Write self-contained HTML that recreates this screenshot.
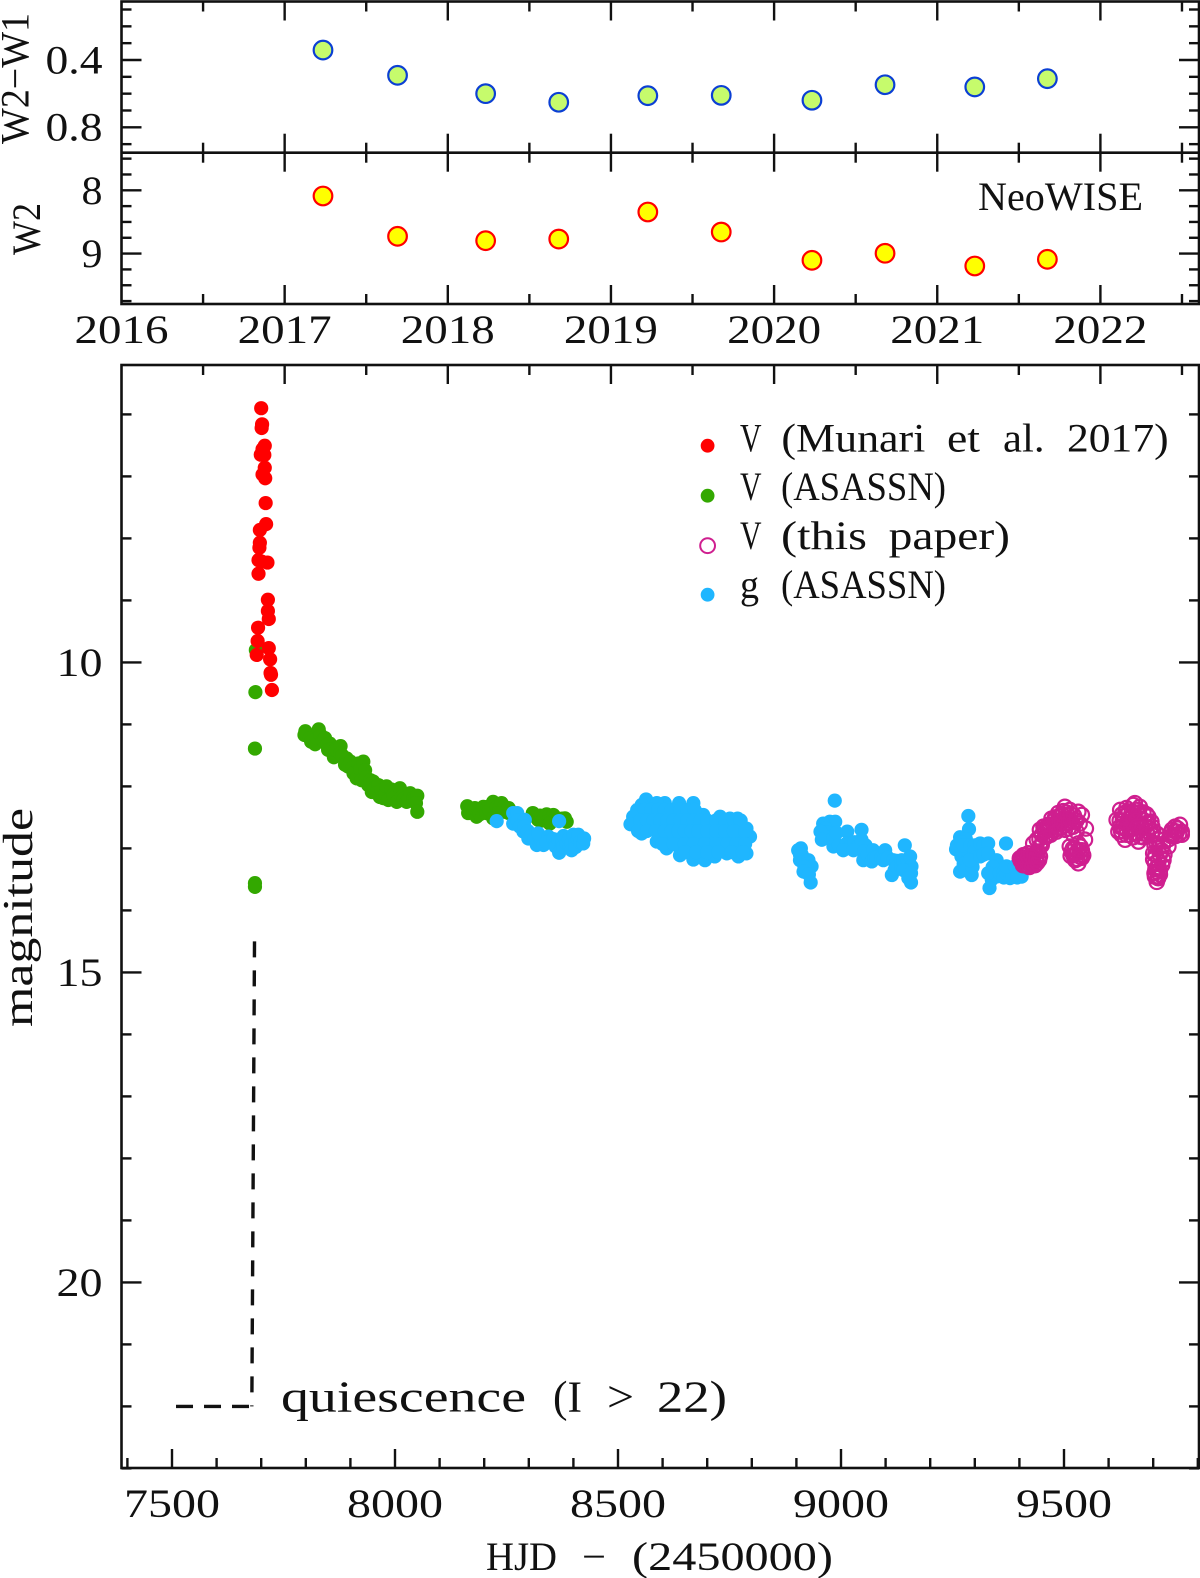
<!DOCTYPE html>
<html lang="en">
<head>
<meta charset="utf-8">
<title>Light curve with NeoWISE panels</title>
<style>
html,body{margin:0;padding:0;background:#fff;width:1200px;height:1578px;overflow:hidden}
svg{display:block}
text{font-family:"Liberation Serif",serif;fill:#111}
</style>
</head>
<body>
<svg id="chart" xmlns="http://www.w3.org/2000/svg" width="1200" height="1578" viewBox="0 0 1200 1578">
  <rect x="0" y="0" width="1200" height="1578" fill="#fff"/>
  <g id="ticks" stroke="#111" stroke-width="2.4" fill="none"></g>
  <rect x="121.5" y="1.5" width="1077.5" height="302.5" fill="none" stroke="#111" stroke-width="2.6"/>
  <line x1="121.5" x2="1199" y1="152.7" y2="152.7" stroke="#111" stroke-width="2.6"/>
  <rect x="121.5" y="365" width="1077.5" height="1103" fill="none" stroke="#111" stroke-width="2.6"/>
  <g id="labels"></g>
  <g id="marks"></g>

  <text transform="translate(28.7,144) rotate(-90)" font-size="40" textLength="131" lengthAdjust="spacingAndGlyphs">W2−W1</text>
  <text transform="translate(40,255) rotate(-90)" font-size="40" textLength="52" lengthAdjust="spacingAndGlyphs">W2</text>
  <text transform="translate(32,1027) rotate(-90)" font-size="42" textLength="219" lengthAdjust="spacingAndGlyphs">magnitude</text>
  <text y="1570" font-size="40"><tspan x="486" textLength="71" lengthAdjust="spacingAndGlyphs">HJD</tspan> <tspan x="582" textLength="24" lengthAdjust="spacingAndGlyphs">−</tspan> <tspan x="632" textLength="201" lengthAdjust="spacingAndGlyphs">(2450000)</tspan></text>
  <text x="978" y="210" font-size="40" textLength="165" lengthAdjust="spacingAndGlyphs">NeoWISE</text>
  <text y="1411.7" font-size="44"><tspan x="281" textLength="245" lengthAdjust="spacingAndGlyphs">quiescence</tspan> <tspan x="553" textLength="29" lengthAdjust="spacingAndGlyphs">(I</tspan> <tspan x="607" textLength="27" lengthAdjust="spacingAndGlyphs">&gt;</tspan> <tspan x="657" textLength="70" lengthAdjust="spacingAndGlyphs">22)</tspan></text>

  <g>
    <circle cx="707.6" cy="445.7" r="6.9" fill="#ff0000"/>
    <text y="451.7" font-size="40"><tspan x="740" textLength="21" lengthAdjust="spacingAndGlyphs">V</tspan> <tspan x="781.4" textLength="144" lengthAdjust="spacingAndGlyphs">(Munari</tspan> <tspan x="947" textLength="33" lengthAdjust="spacingAndGlyphs">et</tspan> <tspan x="1003" textLength="41.5" lengthAdjust="spacingAndGlyphs">al.</tspan> <tspan x="1067" textLength="101.6" lengthAdjust="spacingAndGlyphs">2017)</tspan></text>
    <circle cx="707.6" cy="495.7" r="6.9" fill="#33a800"/>
    <text y="500" font-size="40"><tspan x="740" textLength="21" lengthAdjust="spacingAndGlyphs">V</tspan> <tspan x="781" textLength="165" lengthAdjust="spacingAndGlyphs">(ASASSN)</tspan></text>
    <circle cx="707.6" cy="545.7" r="7.4" fill="none" stroke="#cf1f8f" stroke-width="2"/>
    <text y="549" font-size="40"><tspan x="740" textLength="21" lengthAdjust="spacingAndGlyphs">V</tspan> <tspan x="781" textLength="86" lengthAdjust="spacingAndGlyphs">(this</tspan> <tspan x="888.6" textLength="121.4" lengthAdjust="spacingAndGlyphs">paper)</tspan></text>
    <circle cx="707.6" cy="594.7" r="6.9" fill="#1fb6ff"/>
    <text y="598" font-size="40"><tspan x="740" textLength="19" lengthAdjust="spacingAndGlyphs">g</tspan> <tspan x="781" textLength="165" lengthAdjust="spacingAndGlyphs">(ASASSN)</tspan></text>
  </g>
</svg>
<script>
const yearLabels = [2016, 2017, 2018, 2019, 2020, 2021, 2022];
const yearTicks = [2016.5, 2017, 2017.5, 2018, 2018.5, 2019, 2019.5, 2020, 2020.5, 2021, 2021.5, 2022, 2022.5];
const colorLabels = [0.4, 0.8];
const colorTicks = [0.1, 0.2, 0.3, 0.4, 0.5, 0.6, 0.7, 0.8, 0.9];
const w2Labels = [8, 9];
const w2Ticks = [7.5, 7.75, 8, 8.25, 8.5, 8.75, 9, 9.25, 9.5, 9.75];
const hjdLabels = [7500, 8000, 8500, 9000, 9500];
const hjdTicks = [7400, 7500, 7600, 7700, 7800, 7900, 8000, 8100, 8200, 8300, 8400, 8500, 8600, 8700, 8800, 8900, 9000, 9100, 9200, 9300, 9400, 9500, 9600, 9700, 9800];
const magLabels = [10, 15, 20];
const magTicks = [6, 7, 8, 9, 10, 11, 12, 13, 14, 15, 16, 17, 18, 19, 20, 21, 22, 23];

const wiseYears = [2017.235, 2017.692, 2018.232, 2018.680, 2019.226, 2019.676, 2020.232, 2020.680, 2021.230, 2021.675];
const wiseColor = [0.341, 0.491, 0.600, 0.651, 0.612, 0.610, 0.639, 0.547, 0.560, 0.511];
const wiseW2 = [8.09, 8.727, 8.796, 8.77, 8.343, 8.659, 9.106, 8.995, 9.196, 9.09];

const quiescenceHorizontal = [[7509, 22], [7679, 22]];
const quiescenceVertical = [[7685, 14.5], [7679, 22]];

const asassnVSpike = [[7687,10.48],[7686,11.39],[7686,13.56],[7686,13.62],[7688,9.8]];
const asassnVBand1 = [[7799,11.11],[7797,11.17],[7809,11.22],[7812,11.28],[7821,11.32],[7825,11.22],[7829,11.08],[7833,11.17],[7838,11.25],[7843,11.22],[7848,11.33],[7854,11.31],[7850,11.41],[7858,11.4],[7863,11.53],[7865,11.41],[7870,11.42],[7878,11.35],[7877,11.47],[7882,11.5],[7892,11.55],[7888,11.65],[7895,11.68],[7900,11.6],[7905,11.7],[7907,11.79],[7914,11.87],[7918,11.63],[7922,11.72],[7929,11.60],[7933,11.74],[7925,11.90],[7935,11.85],[7940,11.98],[7945,11.9],[7948,12.09],[7951,11.92],[7955,12.02],[7963,11.98],[7966,12.17],[7959,12.11],[7970,12.06],[7974,12.19],[7978,12.12],[7981,12.00],[7985,12.22],[7992,12.05],[7996,12.14],[8000,12.17],[8004,12.25],[8011,12.03],[8015,12.17],[8020,12.2],[8026,12.25],[8030,12.2],[8034,12.11],[8041,12.19],[8045,12.2],[8050,12.15],[8047,12.27],[8050,12.41]];
const asassnVBand2 = [[8162,12.32],[8164,12.43],[8170,12.4],[8175,12.42],[8183,12.49],[8179,12.35],[8188,12.38],[8190,12.45],[8195,12.4],[8198,12.33],[8205,12.43],[8208,12.33],[8212,12.38],[8220,12.25],[8220,12.515],[8228,12.33],[8235,12.33],[8239,12.27],[8245,12.33],[8247,12.41],[8232,12.43],[8255,12.35],[8255,12.43],[8265,12.43],[8309,12.43],[8315,12.47],[8321,12.54],[8325,12.47],[8330,12.55],[8336,12.49],[8340,12.45],[8346,12.47],[8350,12.52],[8355,12.46],[8360,12.5],[8366,12.54],[8375,12.52],[8385,12.57],[8381,12.515],[8347,12.60]];

const munari = [[7700,5.90],[7702,6.16],[7701,6.22],[7708,6.505],[7703,6.56],[7699,6.65],[7707,6.655],[7708,6.86],[7703,6.97],[7709,7.03],[7710,7.43],[7711,7.77],[7697,7.865],[7697,8.07],[7696,8.15],[7694,8.35],[7701,8.375],[7714,8.39],[7694,8.57],[7715,8.99],[7715,9.17],[7717,9.30],[7693,9.44],[7692,9.655],[7717,9.77],[7690,9.88],[7720,9.95],[7721,10.17],[7722,10.2],[7724,10.445]];

const asassnGSeason1 = [[8228,12.56],[8265,12.43],[8274,12.43],[8265,12.60],[8275,12.55],[8291,12.54],[8288,12.73],[8280,12.65],[8290,12.65],[8298,12.72],[8299,12.84],[8305,12.80],[8312,12.85],[8318,12.945],[8325,12.93],[8328,12.87],[8333,12.945],[8321,12.76],[8344,12.81],[8345,12.88],[8340,12.90],[8355,12.85],[8360,12.92],[8360,12.97],[8368,12.56],[8366,12.86],[8368,13.07],[8375,12.9],[8378,12.80],[8377,12.97],[8385,12.92],[8390,12.85],[8392,12.97],[8395,12.92],[8396,13.03],[8400,12.78],[8405,12.90],[8405,12.98],[8410,12.85],[8411,12.78],[8415,12.9],[8422,12.92],[8424,12.84]];
const asassnGSeason2 = [[8563,12.21],[8553,12.30],[8543,12.38],[8534,12.49],[8528,12.61],[8553,12.76],[8587,12.89],[8609,13.0],[8639,13.11],[8669,13.18],[8695,13.19],[8717,13.13],[8744,13.08],[8770,13.13],[8788,13.08],[8796,12.81],[8788,12.68],[8768,12.52],[8751,12.52],[8729,12.49],[8691,12.46],[8669,12.27],[8637,12.27],[8605,12.27],[8587,12.27],[8564,12.43],[8587,12.49],[8609,12.46],[8632,12.46],[8654,12.43],[8557,12.60],[8579,12.65],[8602,12.65],[8624,12.65],[8646,12.62],[8669,12.62],[8691,12.65],[8714,12.62],[8736,12.65],[8759,12.68],[8594,12.81],[8617,12.84],[8639,12.86],[8661,12.84],[8684,12.84],[8706,12.84],[8729,12.84],[8751,12.84],[8774,12.84],[8639,13.0],[8661,13.0],[8684,13.03],[8706,13.0],[8729,12.98],[8751,12.98],[8774,13.0],
 [8560,12.38],[8575,12.38],[8590,12.38],[8605,12.38],[8620,12.38],[8640,12.38],[8655,12.38],[8672,12.38],
 [8550,12.55],[8565,12.55],[8580,12.55],[8595,12.55],[8610,12.55],[8625,12.55],[8640,12.55],[8655,12.55],[8670,12.55],[8685,12.55],[8700,12.55],[8720,12.55],[8740,12.55],[8760,12.55],[8775,12.55],
 [8545,12.72],[8565,12.72],[8585,12.72],[8605,12.72],[8620,12.72],[8635,12.72],[8650,12.72],[8665,12.72],[8680,12.72],[8700,12.72],[8720,12.72],[8740,12.72],[8760,12.72],[8785,12.72],
 [8600,12.93],[8625,12.93],[8650,12.93],[8670,12.93],[8695,12.93],[8720,12.93],[8745,12.93],[8765,12.93],[8785,12.93],
 [8650,13.06],[8675,13.06],[8700,13.06],[8725,13.06],[8755,13.06],[8780,13.06]];
const asassnGSeason3 = [[8910,13.0],[8904,13.03],[8908,13.10],[8912,13.1],[8908,13.19],[8915,13.22],[8927,13.19],[8925,13.25],[8934,13.29],[8922,13.30],[8918,13.3],[8916,13.375],[8928,13.42],[8932,13.55]];
const asassnGSeason4 = [[8986,12.23],[8975,12.57],[8987,12.57],[8960,12.6],[8965,12.68],[8970,12.75],[8962,12.8],[8954,12.73],[8957,12.86],[8983,12.97],[8983,12.84],[8990,12.75],[8995,12.95],[9014,12.73],[9013,12.92],[9020,12.97],[9005,13.03],[9030,12.90],[9035,12.98],[9046,12.70],[9046,12.86],[9055,12.95],[9028,13.03],[9052,13.05],[9050,13.19],[9060,13.10],[9072,13.03],[9069,13.21],[9075,13.15],[9080,13.15],[9090,13.15],[9099,13.03],[9095,13.19],[9105,13.15],[9114,13.43],[9117,13.19],[9120,13.35],[9125,13.2],[9125,13.3],[9135,13.3],[9143,12.95],[9136,13.19],[9140,13.2],[9150,13.2],[9155,13.13],[9158,13.29],[9150,13.35],[9140,13.35],[9157,13.4],[9157,13.55],[9151,13.48]];
const asassnGSeason5 = [[9285.5,12.477],[9287,12.69],[9267,12.82],[9280,12.85],[9258,13.015],[9260,12.95],[9270,12.9],[9270,13.05],[9280,13.05],[9270,13.13],[9275,12.95],[9290,12.95],[9300,12.95],[9300,13.05],[9300,13.15],[9282,13.2],[9275,13.25],[9267,13.375],[9280,13.35],[9293,13.43],[9295,13.3],[9289,13.19],[9312,12.92],[9320,12.95],[9330,12.92],[9312,13.13],[9320,13.1],[9330,13.08],[9370,12.92],[9349,13.19],[9345,13.3],[9355,13.28],[9340,13.3],[9345,13.45],[9350,13.45],[9338,13.5],[9330,13.40],[9333,13.64],[9356,13.40],[9365,13.38],[9365,13.47],[9370,13.4],[9379,13.48],[9385,13.38],[9385,13.45],[9405,13.455],[9395,13.40],[9395,13.47],[9371,13.29],[9390,13.29]];

const thisPaperSeason1 = [[9401,13.16],[9403,13.2],[9405,13.15],[9408,13.27],[9409,13.11],[9409,13.21],[9410,13.15],[9412,13.16],[9413,13.27],[9415,13.22],[9416,13.19],[9418,13.14],[9418,13.27],[9420,13.08],[9422,13.18],[9422,13.3],[9424,13.24],[9425,13.12],[9427,13.16],[9427,13.28],[9430,13.24],[9431,13.19],[9433,13.1],[9435,13.27],[9437,13.19],[9439,13.13],[9440,13.23],[9442,13.05],[9444,13.19],[9446,13.13],[9431,12.92],[9439,12.86],[9446,12.97],[9445,12.85],[9450,12.95],[9452,12.88],[9446,12.70],[9454,12.65],[9450,12.78],[9458,12.73],[9458,12.8],[9455,12.7],[9461,12.81],[9462,12.65],[9465,12.62],[9465,12.70],[9468,12.7],[9470,12.62],[9470,12.78],[9472,12.52],[9476,12.62],[9478,12.55],[9480,12.50],[9480,12.7],[9482,12.62],[9483,12.73],[9487,12.43],[9488,12.55],[9490,12.48],[9490,12.68],[9491,12.57],[9495,12.45],[9495,12.57],[9498,12.4],[9500,12.63],[9502,12.33],[9502,12.70],[9505,12.42],[9506,12.52],[9508,12.46],[9510,12.60],[9510,12.68],[9513,12.38],[9515,12.45],[9515,12.55],[9520,12.65],[9521,12.78],[9522,12.47],[9525,12.54],[9528,12.55],[9528,12.73],[9532,12.41],[9535,12.6],[9540,12.46],[9549,12.68],[9547,12.86],[9513,12.97],[9517,13.05],[9520,13.0],[9525,13.0],[9530,13.05],[9532,12.92],[9535,13.05],[9537,12.97],[9540,13.03],[9543,13.11],[9515,13.12],[9521,13.11],[9525,13.1],[9525,13.19],[9530,13.17],[9532,13.24],[9536,13.13],[9540,13.15]];
const thisPaperSeason2 = [[9626,12.38],[9655,12.30],[9659,12.27],[9670,12.33],[9640,12.35],[9618,12.54],[9622,12.73],[9637,12.86],[9629,12.78],[9655,12.46],[9670,12.52],[9689,12.49],[9696,12.57],[9670,12.81],[9667,12.89],[9648,12.70],[9682,12.65],[9640,12.60],[9696,12.78],[9678,12.76],[9655,12.65],[9626,12.65],[9693,12.68],[9635,12.48],[9648,12.50],[9662,12.75],
 [9630,12.45],[9638,12.42],[9645,12.42],[9652,12.4],[9662,12.38],[9668,12.42],[9678,12.42],[9685,12.45],[9625,12.55],[9632,12.55],[9648,12.58],[9655,12.55],[9662,12.55],[9672,12.6],[9680,12.55],[9688,12.58],[9698,12.65],[9632,12.65],[9640,12.7],[9648,12.78],[9655,12.75],[9664,12.65],[9675,12.68],[9685,12.72],[9628,12.72],[9640,12.78],[9655,12.82],[9678,12.82],[9688,12.78],[9700,12.72],
 [9708,12.76],[9710,12.85],[9708,12.92],[9703,12.95],[9712,13.0],[9722,12.95],[9700,13.08],[9719,13.03],[9734,12.97],[9715,13.1],[9705,13.1],[9725,13.1],[9712,13.2],[9700,13.18],[9723,13.19],[9704,13.24],[9720,13.27],[9712,13.3],[9705,13.33],[9708,13.375],[9715,13.35],[9715,13.42],[9703,13.4],[9710,13.45],[9704,13.455],[9711,13.48],[9708,13.54],
 [9738,12.76],[9735,12.85],[9740,12.8],[9742,12.7],[9745,12.78],[9748,12.72],[9749,12.65],[9750,12.8],[9753,12.73],[9755,12.68],[9758,12.77],[9760,12.62],[9764,12.73],[9764,12.78]];

const yearX = v => 121.5 + (v - 2016) * 163.15;
const colorY = v => 60 + (v - 0.4) * 168.3;
const w2Y = v => 190.3 + (v - 8) * 63.3;
const hjdX = v => 395 + (v - 8000) * 0.446;
const magY = v => 662.4 + (v - 10) * 62;

const NS = 'http://www.w3.org/2000/svg';
const tickLayer = document.getElementById('ticks');
const labelLayer = document.getElementById('labels');
const markLayer = document.getElementById('marks');

function addTick(x1, y1, x2, y2) {
  const el = document.createElementNS(NS, 'line');
  el.setAttribute('x1', x1);
  el.setAttribute('y1', y1);
  el.setAttribute('x2', x2);
  el.setAttribute('y2', y2);
  
  
  tickLayer.appendChild(el);
}

function addLabel(str, x, y, anchor, width) {
  const el = document.createElementNS(NS, 'text');
  el.setAttribute('x', x);
  el.setAttribute('y', y);
  el.setAttribute('font-size', '40');
  el.setAttribute('text-anchor', anchor);
  el.setAttribute('textLength', width);
  el.setAttribute('lengthAdjust', 'spacingAndGlyphs');
  
  
  el.textContent = str;
  labelLayer.appendChild(el);
}

function addDot(cx, cy, r, fill, stroke, sw, seriesName, parent) {
  const el = document.createElementNS(NS, 'circle');
  el.setAttribute('cx', cx);
  el.setAttribute('cy', cy);
  el.setAttribute('r', r);
  el.setAttribute('fill', fill);
  if (stroke) {
    el.setAttribute('stroke', stroke);
    el.setAttribute('stroke-width', sw);
  }
  
  
  parent.appendChild(el);
}

const isMajorYear = v => Number.isInteger(v);
yearTicks.forEach(v => {
  const x = yearX(v);
  const len = isMajorYear(v) ? 19 : 10;
  addTick(x, 1.5, x, 1.5 + len);
  addTick(x, 152.7 - len, x, 152.7 + len);
  addTick(x, 304, x, 304 - len);
  addTick(x, 365, x, 365 + len);
});
colorTicks.forEach(v => {
  const len = colorLabels.includes(v) ? 20 : 10;
  addTick(121.5, colorY(v), 121.5 + len, colorY(v));
  addTick(1199, colorY(v), 1199 - len, colorY(v));
});
w2Ticks.forEach(v => {
  const len = w2Labels.includes(v) ? 20 : 10;
  addTick(121.5, w2Y(v), 121.5 + len, w2Y(v));
  addTick(1199, w2Y(v), 1199 - len, w2Y(v));
});
hjdTicks.forEach(v => {
  const len = hjdLabels.includes(v) ? 19 : 10;
  addTick(hjdX(v), 1468, hjdX(v), 1468 - len);
});
magTicks.forEach(v => {
  const len = magLabels.includes(v) ? 20 : 10;
  addTick(121.5, magY(v), 121.5 + len, magY(v));
  addTick(1199, magY(v), 1199 - len, magY(v));
});

yearLabels.forEach(v => addLabel(String(v), yearX(v), 343, 'middle', 94));
hjdLabels.forEach(v => addLabel(String(v), hjdX(v), 1517, 'middle', 96));
colorLabels.forEach(v => addLabel(v.toFixed(1), 102.5, colorY(v) + 13.3, 'end', 57));
w2Labels.forEach(v => addLabel(String(v), 102.5, w2Y(v) + 13.5, 'end', 21));
magLabels.forEach(v => addLabel(String(v), 102.5, magY(v) + 13.8, 'end', 46));

const colorGroup = document.createElementNS(NS, 'g');


markLayer.appendChild(colorGroup);
const w2Group = document.createElementNS(NS, 'g');


markLayer.appendChild(w2Group);
wiseYears.forEach((yr, i) => {
  addDot(yearX(yr), colorY(wiseColor[i]), 9.3, '#c6fb6c', '#0b3fd4', 2.2, 'w2-w1-point', colorGroup);
  addDot(yearX(yr), w2Y(wiseW2[i]), 9.3, '#ffff00', '#ff0000', 2.2, 'w2-point', w2Group);
});

function drawDashed(points, dash, lineName) {
  const el = document.createElementNS(NS, 'line');
  el.setAttribute('x1', hjdX(points[0][0]));
  el.setAttribute('y1', magY(points[0][1]));
  el.setAttribute('x2', hjdX(points[1][0]));
  el.setAttribute('y2', magY(points[1][1]));
  el.setAttribute('stroke', '#111');
  el.setAttribute('stroke-width', '3.4');
  el.setAttribute('stroke-dasharray', dash);
  
  
  markLayer.appendChild(el);
}
drawDashed(quiescenceHorizontal, '17 11', 'quiescence-level-line');
drawDashed(quiescenceVertical, '16 13', 'quiescence-rise-line');

function drawScatter(points, seriesName, fill, stroke) {
  const group = document.createElementNS(NS, 'g');
  
  
  markLayer.appendChild(group);
  points.forEach(p => {
    if (stroke) {
      addDot(hjdX(p[0]), magY(p[1]), 7.2, 'none', stroke, 2.2, seriesName + '-point', group);
    } else {
      addDot(hjdX(p[0]), magY(p[1]), 7.1, fill, null, 0, seriesName + '-point', group);
    }
  });
}
drawScatter(asassnVSpike, 'v-asassn-outburst', '#33a800');
drawScatter(asassnVBand1, 'v-asassn-season-1', '#33a800');
drawScatter(asassnVBand2, 'v-asassn-season-2', '#33a800');
drawScatter(munari, 'v-munari', '#ff0000');
drawScatter(asassnGSeason1, 'g-asassn-season-1', '#1fb6ff');
drawScatter(asassnGSeason2, 'g-asassn-season-2', '#1fb6ff');
drawScatter(asassnGSeason3, 'g-asassn-season-3', '#1fb6ff');
drawScatter(asassnGSeason4, 'g-asassn-season-4', '#1fb6ff');
drawScatter(asassnGSeason5, 'g-asassn-season-5', '#1fb6ff');
drawScatter(thisPaperSeason1, 'v-this-paper-season-1', 'none', '#cf1f8f');
drawScatter(thisPaperSeason2, 'v-this-paper-season-2', 'none', '#cf1f8f');
</script>
</body>
</html>
